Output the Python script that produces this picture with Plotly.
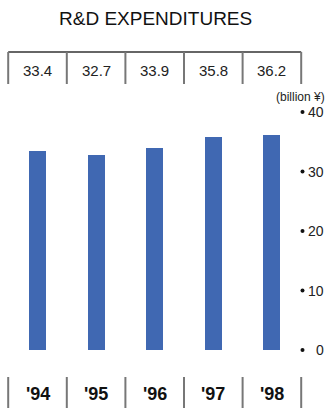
import plotly.graph_objects as go

years = ["'94", "'95", "'96", "'97", "'98"]
values = [33.4, 32.7, 33.9, 35.8, 36.2]
tick_vals = [0, 10, 20, 30, 40]
tick_text = ["0", "10", "20", "30", "40"]
title_text = "R&D EXPENDITURES"
unit_text = "(billion ¥)"

W, H = 329, 408
px_per_unit = 5.95
zero_px = 350
x0_px, step_px = 37.5, 58.6

xr = [-x0_px / step_px, (W - x0_px) / step_px]
yr = [-(H - zero_px) / px_per_unit, zero_px / px_per_unit]

def py(p):  # pixel y -> paper y
    return (H - p) / H

def pxx(p):  # pixel x -> data x
    return (p - x0_px) / step_px

idx = list(range(len(years)))
fig = go.Figure()
fig.add_trace(go.Bar(x=idx, y=values, width=17 / step_px,
                     marker=dict(color="#4068B2", line=dict(width=0)),
                     hoverinfo="skip"))
# bullet markers next to tick labels
fig.add_trace(go.Scatter(x=[pxx(302.5)] * len(tick_vals), y=tick_vals, mode="markers",
                         marker=dict(size=4, color="#111"), hoverinfo="skip"))

shapes = []
line_col = "#777"
bounds = [i - 0.5 for i in idx] + [idx[-1] + 0.5]
shapes.append(dict(type="line", xref="x", yref="paper", x0=bounds[0], x1=bounds[-1],
                   y0=py(52), y1=py(52), line=dict(color="#333", width=1.5)))
for b in bounds:
    shapes.append(dict(type="line", xref="x", yref="paper", x0=b, x1=b,
                       y0=py(52), y1=py(84), line=dict(color=line_col, width=2)))
    shapes.append(dict(type="line", xref="x", yref="paper", x0=b, x1=b,
                       y0=py(377), y1=py(408), line=dict(color=line_col, width=2)))

ann = []
for i, v in zip(idx, values):
    ann.append(dict(x=i, y=py(70.5), xref="x", yref="paper", text=f"{v:.1f}",
                    showarrow=False, yanchor="middle",
                    font=dict(size=15, color="#222", family="Liberation Sans, Arial")))
for i, yl in zip(idx, years):
    ann.append(dict(x=i, y=py(394), xref="x", yref="paper", text=f"<b>{yl}</b>",
                    showarrow=False, yanchor="middle",
                    font=dict(size=18, color="#111",
                              family="Liberation Sans Narrow, Arial Narrow, Liberation Sans")))
for tv, tt in zip(tick_vals, tick_text):
    ann.append(dict(x=326 / W, y=tv, xref="paper", yref="y", text=tt,
                    showarrow=False, xanchor="right", yanchor="middle",
                    font=dict(size=14, color="#222", family="Liberation Sans, Arial")))
ann.append(dict(x=155 / W, y=py(19), xref="paper", yref="paper", text=title_text,
                showarrow=False, xanchor="center", yanchor="middle",
                font=dict(size=19, color="#111", family="Liberation Sans, Arial")))
ann.append(dict(x=327 / W, y=py(97), xref="paper", yref="paper", text=unit_text,
                showarrow=False, xanchor="right", yanchor="middle",
                font=dict(size=12, color="#222", family="Liberation Sans, Arial")))

fig.update_layout(
    width=W, height=H, margin=dict(l=0, r=0, t=0, b=0, pad=0),
    paper_bgcolor="white", plot_bgcolor="white", showlegend=False,
    bargap=0, shapes=shapes, annotations=ann,
    xaxis=dict(range=xr, showticklabels=False, showgrid=False,
               zeroline=False, showline=False, ticks="", fixedrange=True),
    yaxis=dict(range=yr, showticklabels=False, showgrid=False, zeroline=False,
               showline=False, ticks="", fixedrange=True),
)
fig.write_html("out.html", config={"displayModeBar": False},
               post_script="document.body.style.margin='0';")
